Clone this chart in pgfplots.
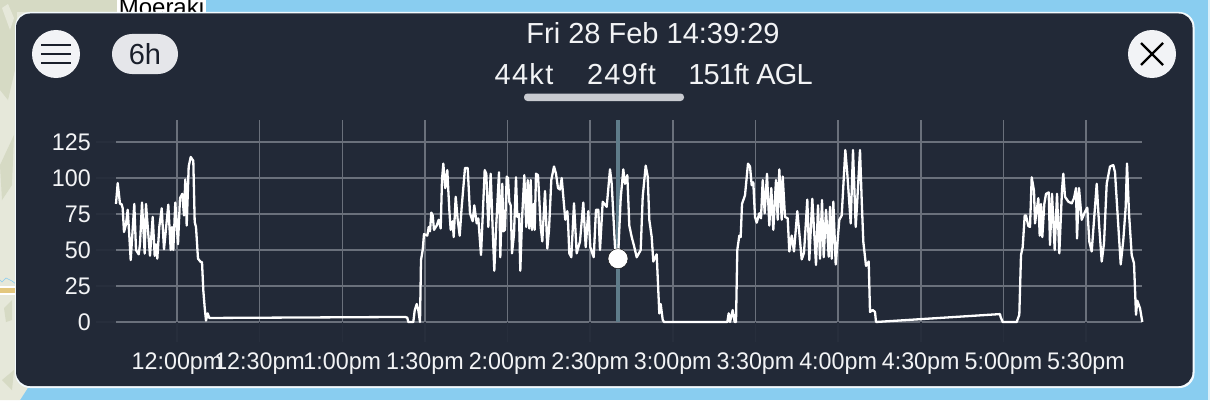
\documentclass[border=0pt]{standalone}
\usepackage{pgfplots}
\pgfplotsset{compat=1.18}
\usepackage{pgfplotstable}
\usepackage{fontspec}
\setmainfont{Liberation Sans}
\newfontfamily\narrowfont[FakeStretch=0.97]{Liberation Sans}
\definecolor{panel}{HTML}{222937}
\definecolor{sea}{HTML}{89CDF0}
\definecolor{land}{HTML}{E6E8DA}
\definecolor{landb}{HTML}{D6DAC4}
\definecolor{gridc}{HTML}{6A707B}
\definecolor{tickc}{HTML}{272E3C}
\definecolor{cursor}{HTML}{5F7C8A}
\definecolor{btn}{HTML}{F2F3F6}
\definecolor{pill}{HTML}{E5E6EA}
\definecolor{barc}{HTML}{C8CAD0}
\definecolor{ink}{HTML}{1A1F2B}
\definecolor{txt}{HTML}{F2F3F5}
\definecolor{road}{HTML}{E3C77E}
\pgfplotstableread{
px kt
116 82
117.7 96.5
120 82
121.5 82
122.7 79
124 62.5
126 68
127.7 78
129.3 60
130.7 43
134.3 82
136 50
138.7 47
140 54
142 83
144.7 47.5
146 82
148.3 61
150 46
152.7 73
154.7 46
156 54
157.3 44
159.3 66
161.7 79
164 50.5
168.3 81.5
170.7 50
172 66
173.3 50
175.3 83
178 54
180 86
182.3 89
184 74
185.3 99
186.7 67
188.7 108
190.7 114.6
193.3 112
194.7 69.4
196 66
198 44
200.7 41.7
202 41.7
203.3 22
204.7 10
206 1
207.7 6
209.3 2.8
405 3.5
407.3 3
408.3 0
413.3 0
414.7 8
416.7 12.5
418.3 8.3
420 0
421 43
422.7 50
424 61
427.3 60
428.7 66
430 63
431.3 76
432.7 74
434 64
436.7 67
438.7 71
440.7 65
442 98.6
443.3 110
445.3 93
447.3 105.5
449.3 78
450.7 64
452.7 70
453.7 59
455.7 87
457.7 71
459.7 60
461.7 80
465 107
467.7 107
470 75.5
472.7 70
474.3 81
476.7 68.5
478.3 72
481 46.5
484.7 105.5
486.3 103
488.3 66
490.7 103
492.7 64
494.3 35.6
496 64
499 104
500.3 45
502.3 96
503.3 63
505 64
506.7 101
508 100
509.3 83.5
510.7 81
512 47.7
514 61
516 100.5
517.3 73
519 75
520.3 35.6
522 71
524.3 102
526.3 66
527.7 98.6
529.3 65
530.7 98.6
532 64
533.7 82
534.7 64
536 103
538 102
539.3 85
540.7 66
542.3 56
545 91
547.3 51
549 64
551.3 98.6
554 108
556 103
558 93
560 92
561.7 100
563.3 87
565.3 71
567.3 77
568 70
569.3 47.7
571.3 45
574 82.4
576.7 47.7
580 56
583.3 83
585.7 52
588.3 77
590.3 52
593.7 45
596 78
598.3 78
600 50
602.7 83.5
606.7 80
610 106
611.7 96
615 52
618 44
620.7 86
623.3 106
625 96
627.3 102
629.3 67
631.7 59
634 53
636.7 45
640.7 50
642.7 87
645.7 108.6
647.7 101
649.3 71
651.7 59
653.3 42
656.7 47
659.3 6
660.7 12.5
662.7 1.5
664 0
727.3 0
728.7 6
730 0
732.7 8.3
734.7 0
736 0
737.3 50
739.3 60
740.7 59
742 82
745 88
748 110
750 108
751.7 95
753.3 97
755 73
756.7 69
759.3 75.5
761 72
762.7 98.6
764.7 75.5
767 103
769.3 67
771.3 93
773.3 64
776 98.6
777.7 71
779.3 106
781.7 71
782.7 101
785 73
787.7 72
789.3 49
791.7 60
794 49
797.3 77
801.7 43.5
804 48
807.3 85
809.3 43
812.3 85.6
816 39.6
818 81
820 44
822 84.7
823.7 45
826 78
828.7 45.4
830 80
831.7 44
833.3 83.6
835.7 40
839.3 71
841.7 74
845.3 119.4
847.3 103
850.7 68.5
853 119.4
855.7 66
857.3 84.7
860 119.4
861.7 84.7
863.3 55.8
866 39
868.7 42
870 7
872.7 8.3
875 7
876 0
1000 5.5
1000.5 3.7
1002.7 0
1016.7 0
1019.3 5
1021 46.5
1022.7 52
1024.7 74
1026 74
1028.3 66.7
1030 66
1031.7 100.5
1034 91
1035 68.5
1038.3 86
1039.7 60
1041 82
1042.3 59
1044.3 82
1046 89
1048.7 90
1050 53.5
1052 89
1054.7 50
1057 89
1059.3 47.7
1062 91.7
1063.3 103
1065 87
1068.3 83.6
1071.7 82.4
1074 86
1076 93
1077 58
1079 93
1081.7 71
1085 76.6
1087.3 79.4
1089.3 55.8
1091.7 49
1093.3 64
1096.7 96
1099 68.5
1101.7 42
1104 54.6
1106.7 96
1110 108
1113.3 109
1115 104
1116.7 84.7
1120.7 40
1123.3 57
1125.7 80
1127 110
1129 75.5
1131.7 46.5
1134 40.7
1136 5
1137.3 14.8
1140 9.5
1142.3 0
}\speed
\begin{document}
\begin{tikzpicture}[x=1pt,y=1pt]
\path[use as bounding box] (0,0) rectangle (1210,400);
\fill[sea] (0,0) rectangle (1210,400);
\fill[white!70!sea] (1208,0) rectangle (1210,400);
% map land with a few patches
\fill[land] (0,0) -- (20,0) -- (29,14) -- (29,390) -- (117,390) -- (117,400) -- (0,400) -- cycle;
\fill[landb] (0,400) -- (117,400) -- (117,388) -- (17,388) -- (15,330) -- (8,300) -- (0,310) -- cycle;
\fill[land] (2,392) -- (10,370) -- (14,382) -- (8,396) -- cycle;
\fill[landb] (0,235) -- (14,265) -- (12,215) -- (2,200) -- cycle;
\fill[landb] (4,92) -- (12,100) -- (12,80) -- (6,78) -- cycle;
\fill[landb] (2,20) -- (12,10) -- (14,30) -- cycle;
\fill[white] (0,105) rectangle (16,114);
\fill[road] (0,107) rectangle (16,112);
\draw[sea,line width=0.6pt] (0,120) -- (2,118) -- (6,122) -- (12,119) -- (16,116);
% Moeraki label with its white halo
\fill[white] (117,380) rectangle (206,400);
\node[anchor=base,font=\fontsize{24}{28}\selectfont,text=black,inner sep=0pt] at (161.5,384) {Moeraki};
% panel
\fill[white!90!sea,rounded corners=15pt] (15,12) rectangle (1194.5,388);
\fill[panel,rounded corners=14pt] (16,14) rectangle (1192.5,386.5);
\begin{axis}[
  at={(116pt,78pt)},anchor=south west,scale only axis,
  width=1026pt,height=202pt,
  xmin=116,xmax=1142,ymin=0,ymax=140.3,clip=false,
  axis line style={draw=none},
  xtick={177,259.6,342.3,424.9,507.6,590.2,672.8,755.5,838.1,920.7,1003.4,1086},
  xticklabels={12:00pm,12:30pm,1:00pm,1:30pm,2:00pm,2:30pm,3:00pm,3:30pm,4:00pm,4:30pm,5:00pm,5:30pm},
  ytick={0,25,50,75,100,125},
  grid=major,
  grid style={gridc,line width=1.6pt},
  tick style={tickc,line width=1.6pt},
  xtick pos=bottom,ytick pos=left,
  tick align=outside,
  major tick length=20pt,
  /pgf/number format/assume math mode=true,
  tick label style={font=\narrowfont\fontsize{24}{28}\selectfont,text=txt},
  xticklabel style={inner sep=0pt,yshift=-11pt},
  yticklabel style={anchor=east,inner sep=0pt,xshift=-5pt},
]
\addplot[cursor,line width=4pt,forget plot] coordinates {(618,0) (618,140.3)};
\addplot[white,line width=2.3pt,line join=round] table[x=px,y=kt] {\speed};
\addplot[only marks,mark=*,mark size=10pt,mark options={fill=white,draw=none}] coordinates {(618,44)};
\end{axis}
% header controls
\fill[btn] (56,346) circle (24);
\draw[ink,line width=2.4pt] (41,355) -- (71,355) (41,346) -- (71,346) (41,337) -- (71,337);
\fill[pill,rounded corners=19.9pt] (112,326) rectangle (178,366);
\node[text=ink,font=\fontsize{29}{32}\selectfont,inner sep=0pt] at (145,346) {6h};
\fill[btn] (1152,346) circle (24);
\draw[black,line width=2.2pt] (1141,357) -- (1163,335) (1141,335) -- (1163,357);
\node[text=txt,font=\fontsize{29}{32}\selectfont,inner sep=0pt,anchor=base] at (653,356) {Fri 28 Feb 14:39:29};
\node[text=txt,font=\fontsize{29}{32}\selectfont\addfontfeatures{LetterSpace=4.7},inner sep=0pt,anchor=base] at (524,316) {44kt};
\node[text=txt,font=\fontsize{29}{32}\selectfont\addfontfeatures{LetterSpace=3.7},inner sep=0pt,anchor=base] at (621.5,316) {249ft};
\node[text=txt,font=\fontsize{29}{32}\selectfont\addfontfeatures{LetterSpace=-3},inner sep=0pt,anchor=base] at (750.5,316) {151ft AGL};
\fill[barc,rounded corners=3.4pt] (524,299) rectangle (684,306.5);
\end{tikzpicture}
\end{document}
